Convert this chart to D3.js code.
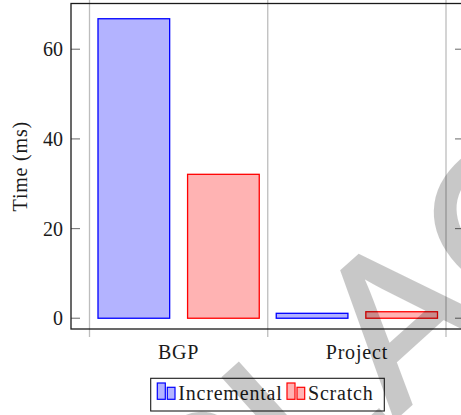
<!DOCTYPE html>
<html>
<head>
<meta charset="utf-8">
<script src="https://cdn.jsdelivr.net/npm/d3@7"></script>
<style>
  html, body { margin: 0; padding: 0; background: #fff; }
  svg { display: block; }
  text { font-family: "Liberation Serif", "DejaVu Serif", serif; fill: #1a1a1a; }
  .word { letter-spacing: 0.8px; }
</style>
</head>
<body>
<div id="chart"></div>
<script>
// Timing per benchmark, incremental vs. from-scratch runs
const categories = ["BGP", "Project"];
const seriesNames = ["Incremental", "Scratch"];
const incremental = [66.8, 1.1];
const scratch = [32.1, 1.45];
const yTicks = [0, 20, 40, 60];
const yLabel = "Time (ms)";
const stampText = "PLACEHOLDER";

const W = 461, H = 415;
const box = { left: 71, right: 464, top: 3.5, bottom: 329 };

const seriesValues = [incremental, scratch];
const fills = ["#b3b3ff", "#ffb3b3"];
const strokes = ["#0000ff", "#ff0000"];

const svg = d3.select("#chart").append("svg")
  .attr("width", W).attr("height", H);

const x = d3.scaleBand().domain(categories).range([89.5, 446]).padding(0);
const xInner = d3.scaleBand().domain(seriesNames)
  .range([8.5, x.bandwidth() - 8.5]).paddingInner(0.2).paddingOuter(0);
const y = d3.scaleLinear().domain([-2.4, 70.2]).range([box.bottom, box.top]);

// vertical grid lines at category boundaries, with outward ticks top and bottom
const edges = categories.map(c => x(c)).concat([x(categories[categories.length - 1]) + x.bandwidth()]);
svg.append("g").selectAll("line").data(edges).join("line")
  .attr("x1", d => d).attr("x2", d => d)
  .attr("y1", box.top - 6).attr("y2", box.bottom + 8)
  .attr("stroke", "#bdbdbd").attr("stroke-width", 1.3);

// bars
const groups = svg.append("g").selectAll("g").data(categories).join("g")
  .attr("transform", d => `translate(${x(d)},0)`);
groups.selectAll("rect")
  .data((c, i) => seriesNames.map((s, k) => ({ s, k, v: seriesValues[k][i] })))
  .join("rect")
  .attr("x", d => xInner(d.s))
  .attr("width", xInner.bandwidth())
  .attr("y", d => y(d.v))
  .attr("height", d => y(0) - y(d.v))
  .attr("fill", d => fills[d.k])
  .attr("stroke", d => strokes[d.k])
  .attr("stroke-width", 1.3);

// y ticks (inward, both sides)
const yt = svg.append("g");
yt.selectAll("line.l").data(yTicks).join("line").attr("class", "l")
  .attr("x1", box.left).attr("x2", box.left + 9)
  .attr("y1", d => y(d)).attr("y2", d => y(d))
  .attr("stroke", "#808080").attr("stroke-width", 1.2);
yt.selectAll("line.r").data(yTicks).join("line").attr("class", "r")
  .attr("x1", box.right - 9).attr("x2", box.right)
  .attr("y1", d => y(d)).attr("y2", d => y(d))
  .attr("stroke", "#808080").attr("stroke-width", 1.2);
yt.selectAll("text").data(yTicks).join("text")
  .attr("x", 63).attr("y", d => y(d) + 7)
  .attr("text-anchor", "end").attr("font-size", 20)
  .text(d => d);

// axis frame
svg.append("rect")
  .attr("x", box.left).attr("y", box.top)
  .attr("width", box.right - box.left).attr("height", box.bottom - box.top)
  .attr("fill", "none").attr("stroke", "#1a1a1a").attr("stroke-width", 1.3);

// category labels
svg.append("g").selectAll("text").data(categories).join("text")
  .attr("class", "word")
  .attr("x", d => x(d) + x.bandwidth() / 2).attr("y", 359)
  .attr("text-anchor", "middle").attr("font-size", 20)
  .text(d => d);

// y axis title
svg.append("text")
  .attr("class", "word")
  .attr("transform", `translate(27,${(box.top + box.bottom) / 2}) rotate(-90)`)
  .attr("text-anchor", "middle").attr("font-size", 20)
  .text(yLabel);

// legend
const lg = svg.append("g");
lg.append("rect").attr("x", 150.7).attr("y", 378.3).attr("width", 233.6).attr("height", 32.7)
  .attr("fill", "#fff").attr("stroke", "#1a1a1a").attr("stroke-width", 1.1);
const legendX = [157.3, 287];
seriesNames.forEach((s, k) => {
  const gx = legendX[k];
  lg.append("rect").attr("x", gx).attr("y", 383).attr("width", 8).attr("height", 16.3)
    .attr("fill", fills[k]).attr("stroke", strokes[k]).attr("stroke-width", 1.2);
  lg.append("rect").attr("x", gx + 10).attr("y", 387.3).attr("width", 7.7).attr("height", 12)
    .attr("fill", fills[k]).attr("stroke", strokes[k]).attr("stroke-width", 1.2);
  lg.append("text").attr("class", "word")
    .attr("x", gx + 21).attr("y", 400).attr("font-size", 20).text(s);
});

// diagonal stamp over the figure (translucent as a whole)
const F = 210;
const stamp = svg.append("g")
  .attr("transform", "translate(345,258) rotate(-42)")
  .attr("opacity", 0.21);
const st = stamp.append("text")
  .attr("font-size", F)
  .style("font-family", "'Liberation Sans', Arial, sans-serif")
  .style("fill", "#000")
  .style("stroke", "#000").style("stroke-width", 4).style("stroke-linejoin", "miter")
  .text(stampText);
const node = st.node();
const pre = node.getSubStringLength(0, 2);
const aw = node.getSubStringLength(2, 1);
st.attr("x", -(pre + aw / 2)).attr("y", 0.716 * F + 2);
</script>
</body>
</html>
